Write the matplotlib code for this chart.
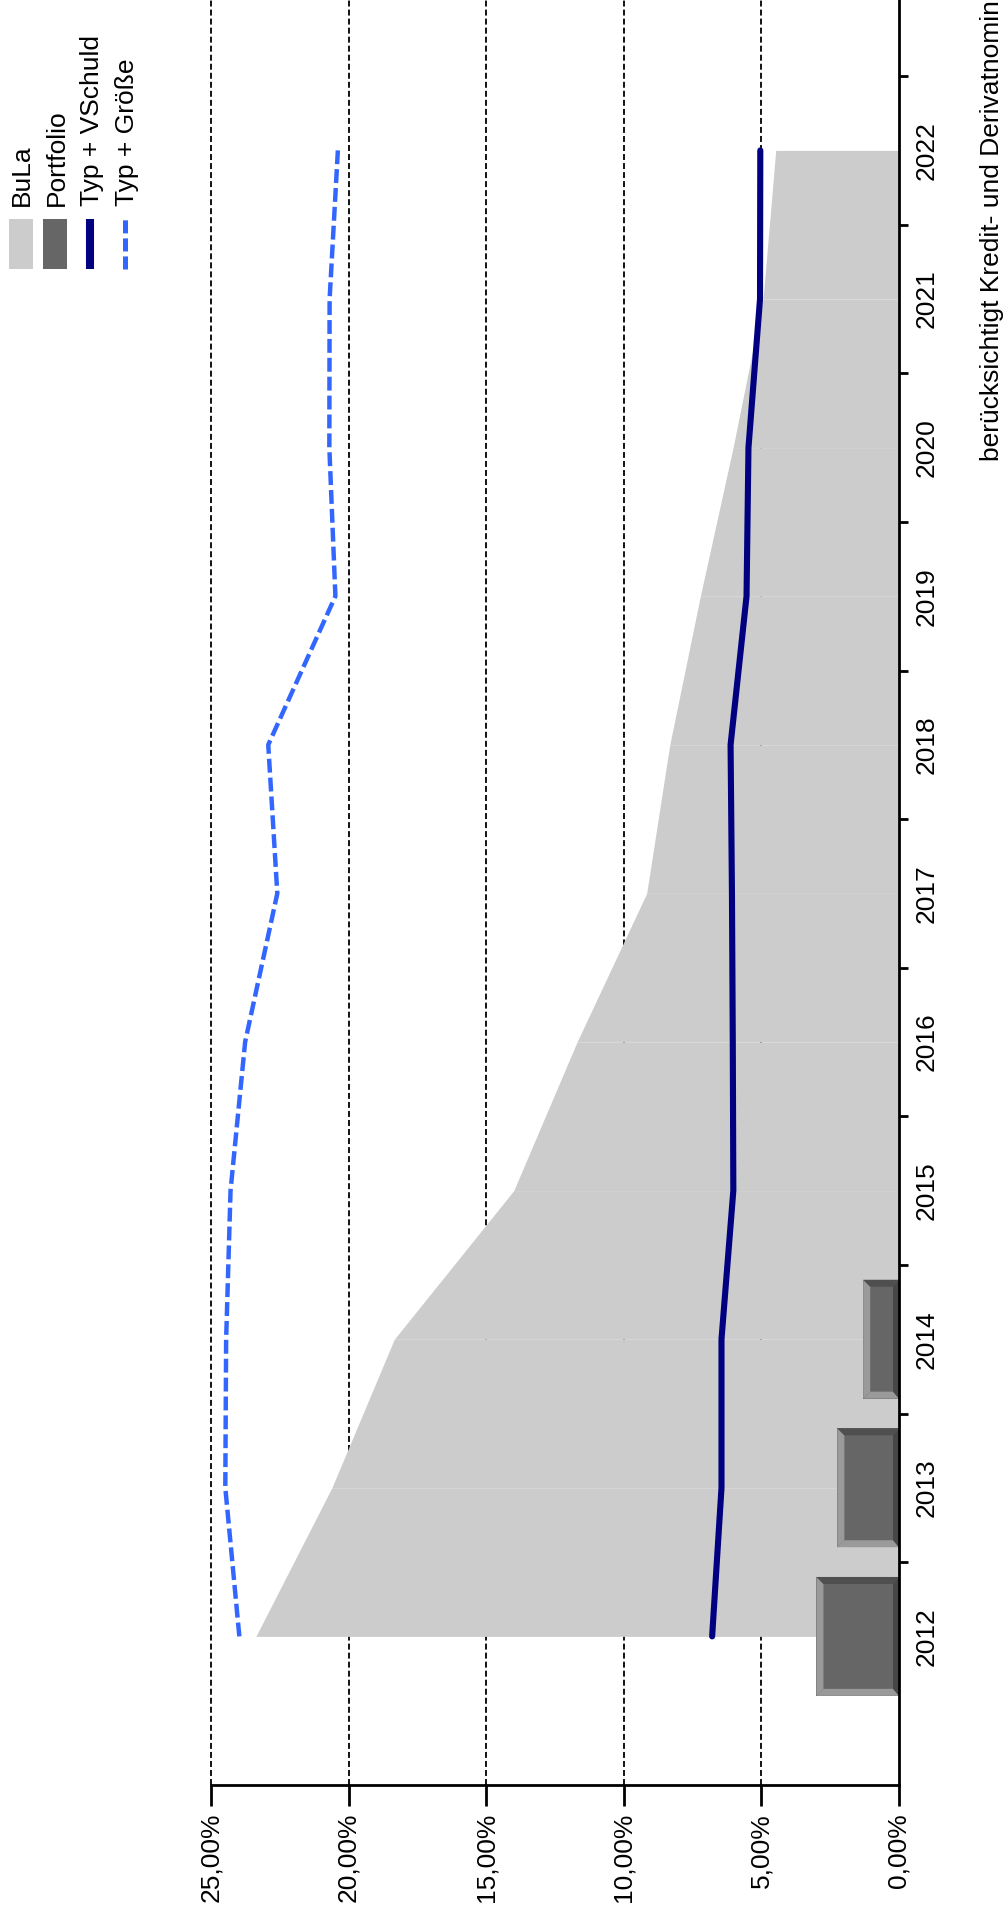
import matplotlib
matplotlib.use("Agg")
import matplotlib.pyplot as plt
from matplotlib.patches import Polygon, Rectangle

# data (values in percent)
years = [2012, 2013, 2014, 2015, 2016, 2017, 2018, 2019, 2020, 2021, 2022]
bula = [23.37, 20.61, 18.34, 14.0, 11.7, 9.17, 8.33, 7.22, 6.03, 4.94, 4.48]
portfolio_years = [2012, 2013, 2014]
portfolio = [3.0, 2.24, 1.30]
typ_vschuld = [6.79, 6.45, 6.45, 6.02, 6.04, 6.07, 6.12, 5.54, 5.47, 5.05, 5.04]
typ_groesse = [23.97, 24.48, 24.45, 24.29, 23.76, 22.59, 22.92, 20.48, 20.70, 20.69, 20.39]

pct_ticks = [0, 5, 10, 15, 20, 25]
pct_labels = ["0,00%", "5,00%", "10,00%", "15,00%", "20,00%", "25,00%"]
legend_labels = ["BuLa", "Portfolio", "Typ + VSchuld", "Typ + Größe"]
# the original picture is cropped, only this part of the note is visible
footnote = "berücksichtigt Kredit- und Derivatnomin"

plt.rcParams['font.family'] = ['Liberation Sans', 'DejaVu Sans']
plt.rcParams['lines.scale_dashes'] = False

W, H = 1004, 1913
FS = 19
c_bula = '#cccccc'
c_port = '#666666'
c_navy = '#000080'
c_blue = '#3366ff'

fig = plt.figure(figsize=(W / 100, H / 100), dpi=100)

# chart is drawn turned by 90 degrees: percent runs right-to-left, years bottom-to-top
px_per_year = 148.6
ytop = 2011 + 1785 / px_per_year
ax = fig.add_axes([211 / W, (H - 1785) / H, 688 / W, 1785 / H])
ax.set_xlim(25, 0)
ax.set_ylim(2011, ytop)

# dashed gridlines behind everything
ax.vlines(pct_ticks[1:], 2011, ytop, colors='black',
          linestyles=[(0, (4.3, 2.2))], linewidth=1.3, zorder=1, clip_on=False)

# BuLa area, one piece per year step (leaves thin seams like the original)
for i in range(len(years) - 1):
    ax.fill_betweenx(years[i:i + 2], 0, bula[i:i + 2], color=c_bula, lw=0, zorder=2)

# Portfolio bars with bevelled edges
bh = 0.4
tx, ty = 7 / 27.52, 7 / px_per_year
rx = 6 / 27.52
for yr, v in zip(portfolio_years, portfolio):
    y0, y1 = yr - bh, yr + bh
    ax.add_patch(Rectangle((0, y0), v, 2 * bh, facecolor=c_port, lw=0, zorder=3))
    ax.add_patch(Polygon([(v, y0), (v, y1), (v - tx, y1 - ty), (v - tx, y0 + ty)],
                         closed=True, facecolor='#9a9a9a', lw=0, zorder=3))
    ax.add_patch(Polygon([(v, y0), (0, y0), (rx, y0 + ty), (v - tx, y0 + ty)],
                         closed=True, facecolor='#9a9a9a', lw=0, zorder=3))
    ax.add_patch(Polygon([(v, y1), (0, y1), (rx, y1 - ty), (v - tx, y1 - ty)],
                         closed=True, facecolor='#4f4f4f', lw=0, zorder=3))
    ax.add_patch(Polygon([(0, y0), (0, y1), (rx, y1 - ty), (rx, y0 + ty)],
                         closed=True, facecolor='#474747', lw=0, zorder=3))

ax.plot(typ_vschuld, years, color=c_navy, lw=4.4, solid_capstyle='round',
        solid_joinstyle='round', zorder=4)
ax.plot(typ_groesse, years, color=c_blue, lw=3.2, linestyle=(0, (10, 3.6)),
        dash_capstyle='butt', zorder=4)

for s in ['left', 'top']:
    ax.spines[s].set_visible(False)
for s in ['bottom', 'right']:
    ax.spines[s].set_linewidth(2)
    ax.spines[s].set_zorder(5)

ax.set_xticks(pct_ticks)
ax.set_xticklabels(pct_labels, rotation=90, va='top', ha='center', fontsize=FS)
ax.tick_params(axis='x', length=15, width=2, pad=5, direction='out')

ax.yaxis.tick_right()
ax.set_yticks(years)
ax.set_yticklabels([str(y) for y in years], rotation=90, va='center', ha='left', fontsize=FS)
ax.set_yticks([y + 0.5 for y in years], minor=True)
ax.tick_params(axis='y', which='major', length=0, pad=11.5)
ax.tick_params(axis='y', which='minor', length=6.5, width=2, direction='out')

# overlay in pixel coordinates for the turned legend and footnote
ov = fig.add_axes([0, 0, 1, 1], zorder=6)
ov.set_xlim(0, W)
ov.set_ylim(H, 0)
ov.axis('off')

ov.add_patch(Rectangle((9, 219), 24, 50, facecolor=c_bula, lw=0))
ov.add_patch(Rectangle((43, 219), 24, 50, facecolor=c_port, lw=0))
ov.plot([90, 90], [269, 219], color=c_navy, lw=5.8, solid_capstyle='butt')
ov.plot([125, 125], [269, 219], color=c_blue, lw=3.6, linestyle=(0, (9.4, 3.6)),
        dash_capstyle='butt')
for xc, lab in zip([22, 57, 92, 127], legend_labels):
    ov.text(xc, 206, lab, rotation=90, ha='center', va='bottom', fontsize=FS)

ov.text(992, 461, footnote, rotation=90, ha='center', va='bottom', fontsize=FS)

fig.savefig('out.png', dpi=100)
